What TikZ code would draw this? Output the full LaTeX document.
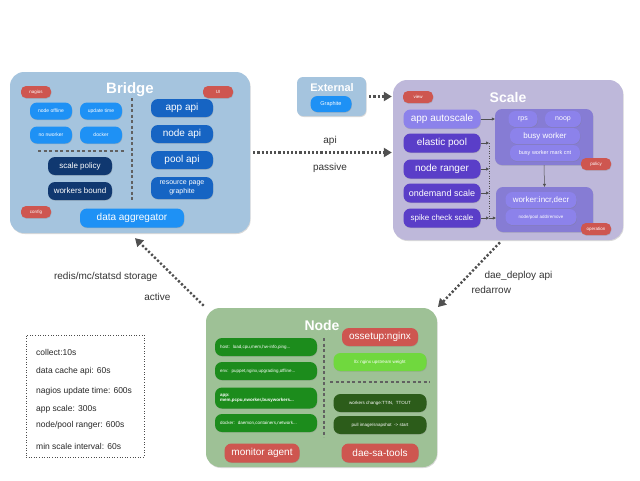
\documentclass[tikz,border=0pt]{standalone}
\usepackage{fontspec}
\setmainfont{Liberation Sans}
\usetikzlibrary{arrows.meta,shadows,positioning}
\definecolor{bridgebg}{RGB}{165,196,222}
\definecolor{scalebg}{RGB}{190,184,218}
\definecolor{nodebg}{RGB}{158,193,150}
\definecolor{tagred}{RGB}{206,86,80}
\definecolor{skyblue}{RGB}{30,145,245}
\definecolor{apiblue}{RGB}{22,100,195}
\definecolor{navyblue}{RGB}{16,56,112}
\definecolor{lilac}{RGB}{140,130,235}
\definecolor{scaledark}{RGB}{90,62,200}
\definecolor{grpviolet}{RGB}{134,124,212}
\definecolor{agentgreen}{RGB}{28,140,28}
\definecolor{lbgreen}{RGB}{112,216,62}
\definecolor{opsgreen}{RGB}{44,92,26}
\definecolor{arrowgrey}{RGB}{80,80,80}
\newcommand{\fsz}[1]{\fontsize{#1pt}{1.2\dimexpr#1pt\relax}\selectfont}
\begin{document}
\begin{tikzpicture}[x=1pt,y=-1pt,
	panel/.style={rounded corners=14pt, drop shadow={opacity=.3,shadow xshift=.6pt,shadow yshift=-1pt}},
	title/.style={text=white, font=\bfseries\fsz{#1}},
	box/.style 2 args={text=white, align=center, inner sep=1pt, rounded corners=7pt, minimum width=#1, minimum height=#2, drop shadow={opacity=.35,shadow xshift=.4pt,shadow yshift=-.7pt}},
	tag/.style={box={30pt}{12pt}, fill=tagred, rounded corners=5pt, font=\fsz{4.5}},
	agent/.style={box={102pt}{18pt}, fill=agentgreen, font=\fsz{4.5}, align=left, text width=92pt},
	divider/.style={draw=arrowgrey!90, line width=1.3pt, dash pattern=on 3pt off 2.5pt},
	flow/.style={draw=arrowgrey, line width=2.4pt, dash pattern=on 2.2pt off 2pt, -{Triangle[width=9pt,length=8pt]}, shorten >=1pt, shorten <=3pt},
	feed/.style={draw=arrowgrey, line width=.5pt, -{Triangle[width=3pt,length=3pt]}},
	lbl/.style={text=black!80, font=\fsz{10}}
	]
	\useasboundingbox (0,0) rectangle (640,480);
	%
	% Bridge
	\node[panel, fill=bridgebg, minimum width=240pt, minimum height=161pt] (bridge) at (130,152.5) {};
	\node[title=15] (bridgetitle) at (130,90) {Bridge};
	\node[tag] (nagios) at (36,92) {nagios};
	\node[tag] (ui) at (218,92) {UI};
	\node[tag] (config) at (36,212) {config};
	\foreach \x/\y/\t [count=\i] in {51/111/node offline,101/111/update time,51/135/no nworker,101/135/docker}
	\node[box={42pt}{17pt}, fill=skyblue, font=\fsz{5}] (chk\i) at (\x,\y) {\t};
	\draw[divider] (38,151) -- (125,151);
	\draw[divider] (132,98) -- (132,202);
	\node[box={64pt}{18pt}, fill=navyblue, font=\fsz{8}] (policy) at (80,166) {scale policy};
	\node[box={64pt}{18pt}, fill=navyblue, font=\fsz{8}] (bound) at (80,191) {workers bound};
	\foreach \y/\t [count=\i] in {108/app api,134/node api,160/pool api}
	\node[box={62pt}{18pt}, fill=apiblue, font=\fsz{10}] (api\i) at (182,\y) {\t};
	\node[box={62pt}{22pt}, fill=apiblue, font=\fsz{7}] (graphpage) at (182,188) {resource page\\graphite};
	\node[box={104pt}{19pt}, fill=skyblue, font=\fsz{10}] (aggregator) at (132,218) {data aggregator};
	%
	% External
	\node[panel, rounded corners=6pt, fill=bridgebg, minimum width=69pt, minimum height=39pt] (external) at (331.5,96.5) {};
	\node[title=11] (exttitle) at (332,88) {External};
	\node[box={41pt}{16pt}, fill=skyblue, font=\fsz{5.5}] (graphite) at (331,104) {Graphite};
	%
	% Scale
	\node[panel, fill=scalebg, minimum width=230pt, minimum height=160pt] (scale) at (508,160) {};
	\node[title=14] (scaletitle) at (508,97) {Scale};
	\node[tag] (view) at (418,97) {view};
	\node[box={77pt}{19pt}, fill=lilac, font=\fsz{10}] (autoscale) at (442,119) {app autoscale};
	\foreach \y/\s/\t [count=\i] in {143/10/elastic pool,169/10/node ranger,193/9/ondemand scale,218/8/spike check scale}
	\node[box={77pt}{19pt}, fill=scaledark, font=\fsz{\s}] (sc\i) at (442,\y) {\t};
	\node[box={98pt}{56pt}, fill=grpviolet] (policygrp) at (544,137) {};
	\node[box={29pt}{16pt}, fill=lilac, font=\fsz{7}] (rps) at (523,119) {rps};
	\node[box={36pt}{16pt}, fill=lilac, font=\fsz{7}] (noop) at (563,119) {noop};
	\node[box={70pt}{16pt}, fill=lilac, font=\fsz{8}] (busy) at (545,136) {busy worker};
	\node[box={70pt}{16pt}, fill=lilac, font=\fsz{5.5}] (markcnt) at (545,153) {busy worker mark cnt};
	\node[tag] (policytag) at (596,164) {policy};
	\node[box={97pt}{45pt}, fill=grpviolet] (opgrp) at (544.5,209.5) {};
	\node[box={71pt}{16pt}, fill=lilac, font=\fsz{8}] (incr) at (541,200) {worker:incr,decr};
	\node[box={71pt}{16pt}, fill=lilac, font=\fsz{4.5}] (addrm) at (541,217) {node/pool add/remove};
	\node[tag] (optag) at (596,229) {operation};
	\coordinate (bus) at (489,0);
	\draw[feed] (autoscale.east) -- (autoscale.east -| policygrp.west);
	\draw[feed] (policygrp.south) -- (opgrp.north);
	\foreach \i in {1,...,4}
	\draw[feed] (sc\i.east) -- (sc\i.east -| bus);
	\draw[arrowgrey, line width=.5pt, dotted] (sc1.east -| bus) -- (sc4.east -| bus);
	\draw[feed] (sc4.east -| bus) -- (sc4.east -| opgrp.west);
	%
	% Node
	\node[panel, fill=nodebg, minimum width=231pt, minimum height=159pt] (nodep) at (321.5,387.5) {};
	\node[title=14] (nodetitle) at (322,325) {Node};
	\node[agent] (host) at (266,347) {host:\ \ load,cpu,mem,hw-info,ping...};
	\node[agent] (env) at (266,371) {env:\ \ puppet,nginx,upgrading,offline...};
	\node[agent, minimum height=21pt, font=\bfseries\fsz{4.5}] (appinfo) at (266,398) {app:\\mem,pcpu,nworker,busyworkers...};
	\node[agent] (dockerinfo) at (266,423) {docker:\ \ daemon,containers,network...};
	\draw[divider] (324,338) -- (324,437);
	\draw[divider] (330,382) -- (430,382);
	\node[box={76pt}{18pt}, fill=tagred, font=\fsz{10}] (ossetup) at (380,337) {ossetup:nginx};
	\node[box={93pt}{18pt}, fill=lbgreen, font=\fsz{4.5}] (lb) at (380,362) {lb:\ nginx upstream weight};
	\node[box={93pt}{18pt}, fill=opsgreen, font=\fsz{4.5}] (ttin) at (380,403) {workers change:TTIN,\ \ TTOUT};
	\node[box={93pt}{18pt}, fill=opsgreen, font=\fsz{4.5}] (pull) at (380,425) {pull image/snapshot\ \ -> start};
	\node[box={75pt}{19pt}, fill=tagred, font=\fsz{10}] (monitor) at (262,453) {monitor agent};
	\node[box={77pt}{19pt}, fill=tagred, font=\fsz{10}] (satools) at (380,453) {dae-sa-tools};
	%
	% intervals
	\node[draw=black!70, dotted, line width=.6pt, minimum width=118pt, minimum height=122pt] (legend) at (85,396) {};
	\foreach \y/\t [count=\i] in {352/{collect:10s},371/{data cache api: 60s},391/{nagios update time: 600s},409/{app scale: 300s},425/{node/pool ranger: 600s},446/{min scale interval: 60s}}
	\node[anchor=west, inner sep=0pt, text=black!85, font=\fsz{8.5}] (note\i) at (36,\y) {\t};
	%
	% flows
	\draw[flow] (external.east) -- (external.east -| scale.west);
	\draw[flow] (bridge.east) -- (bridge.east -| scale.west)
	node[lbl, pos=.56, above=2pt] (apilbl) {api}
	node[lbl, pos=.56, below=6pt] (passivelbl) {passive};
	\draw[flow] ([xshift=-6pt]scale.south) -- (nodep.north east);
	\node[lbl, anchor=west] (deploylbl) at (481,276) {dae\_deploy api};
	\node[lbl, anchor=west] (redlbl) at (468,290) {redarrow};
	\draw[flow, shorten >=7pt] (nodep.north west) -- (bridge.south);
	\node[lbl, anchor=east] (storelbl) at (161,277) {redis/mc/statsd storage};
	\node[lbl, anchor=east] (activelbl) at (174,297) {active};
\end{tikzpicture}
\end{document}
